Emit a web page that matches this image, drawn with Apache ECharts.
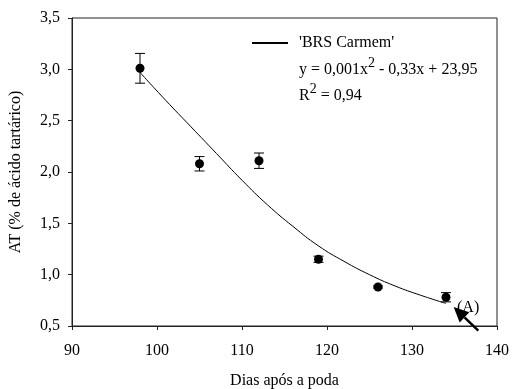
<!DOCTYPE html>
<html>
<head>
<meta charset="utf-8">
<script src="https://cdn.jsdelivr.net/npm/echarts@6/dist/echarts.min.js"></script>
<style>
html, body { margin: 0; padding: 0; background: #fff; }
#chart { width: 515px; height: 389px; }
</style>
</head>
<body>
<div id="chart"></div>
<script>
// pontos medidos (dias apos a poda, AT e erro padrao)
var dias = [98, 105, 112, 119, 126, 134];
var atMedia = [3.01, 2.08, 2.11, 1.15, 0.88, 0.78];
var atErro = [0.145, 0.07, 0.075, 0.03, 0.01, 0.045];

// curva ajustada
var curvaX = [98, 101, 104, 107, 110, 113, 116, 119, 122, 125, 128, 131, 134];
var curvaY = [2.97, 2.70, 2.44, 2.18, 1.92, 1.68, 1.47, 1.28, 1.13, 1.00, 0.89, 0.80, 0.72];

// seta (A): inicio x,y -> ponta x,y
var setaA = [137.8, 0.455, 134.9, 0.685];

var xTicks = [90, 100, 110, 120, 130, 140];
var yTicks = [0.5, 1.0, 1.5, 2.0, 2.5, 3.0, 3.5];

var fonte = 'Liberation Serif';

var pontos = [];
var barras = [];
for (var i = 0; i < dias.length; i++) {
	pontos.push([dias[i], atMedia[i]]);
	barras.push([dias[i], atMedia[i] - atErro[i], atMedia[i] + atErro[i]]);
}
var curva = [];
for (var j = 0; j < curvaX.length; j++) {
	curva.push([curvaX[j], curvaY[j]]);
}

var myChart = echarts.init(document.getElementById('chart'));
var option = {
	animation: false,
	textStyle: { fontFamily: fonte, color: '#000' },
	grid: {
		left: 72, top: 18, right: 18, bottom: 63,
		containLabel: false, outerBoundsMode: 'none',
		show: true, borderColor: '#222', borderWidth: 1
	},
	legend: {
		left: 252, top: 35, padding: 0,
		itemWidth: 36, itemHeight: 10,
		textStyle: { fontFamily: fonte, fontSize: 16, color: '#000', padding: [0, 0, 0, 6] },
		data: [{ name: "'BRS Carmem'", icon: 'path://M0,0 L1,0 L1,0.06 L0,0.06 Z', itemStyle: { color: '#000' } }]
	},
	xAxis: {
		type: 'value',
		min: xTicks[0], max: xTicks[xTicks.length - 1], interval: 10,
		name: 'Dias após a poda',
		nameLocation: 'middle', nameGap: 47,
		nameTextStyle: { fontFamily: fonte, fontSize: 16, color: '#000' },
		axisLine: { lineStyle: { color: '#222' } },
		axisTick: { inside: false, length: 4, lineStyle: { color: '#222' } },
		axisLabel: { fontFamily: fonte, fontSize: 16, color: '#000', margin: 17 },
		splitLine: { show: false }
	},
	yAxis: {
		type: 'value',
		min: yTicks[0], max: yTicks[yTicks.length - 1], interval: 0.5,
		name: 'AT (% de ácido tartárico)',
		nameLocation: 'middle', nameGap: 48, nameRotate: 90,
		nameTextStyle: { fontFamily: fonte, fontSize: 16, color: '#000' },
		axisLine: { show: true, lineStyle: { color: '#222' } },
		axisTick: { show: true, inside: false, length: 4, lineStyle: { color: '#222' } },
		axisLabel: {
			fontFamily: fonte, fontSize: 16, color: '#000', margin: 12,
			formatter: function (v) { return v.toFixed(1).replace('.', ','); }
		},
		splitLine: { show: false }
	},
	series: [
		{
			name: "'BRS Carmem'",
			type: 'line',
			data: curva,
			smooth: true,
			symbol: 'none',
			color: '#000',
			lineStyle: { color: '#000', width: 1 },
			z: 2
		},
		{
			name: 'erro',
			type: 'custom',
			data: barras,
			z: 3,
			renderItem: function (params, api) {
				var x = api.value(0);
				var baixo = api.coord([x, api.value(1)]);
				var alto = api.coord([x, api.value(2)]);
				var w = 5;
				var st = { stroke: '#000', lineWidth: 1 };
				return {
					type: 'group',
					children: [
						{ type: 'line', shape: { x1: baixo[0], y1: baixo[1], x2: alto[0], y2: alto[1] }, style: st },
						{ type: 'line', shape: { x1: baixo[0] - w, y1: baixo[1], x2: baixo[0] + w, y2: baixo[1] }, style: st },
						{ type: 'line', shape: { x1: alto[0] - w, y1: alto[1], x2: alto[0] + w, y2: alto[1] }, style: st }
					]
				};
			}
		},
		{
			name: 'media',
			type: 'scatter',
			data: pontos,
			symbol: 'circle',
			symbolSize: 9,
			itemStyle: { color: '#000', opacity: 1 },
			z: 4
		},
		{
			name: 'seta',
			type: 'custom',
			data: [setaA],
			clip: false,
			silent: true,
			z: 5,
			renderItem: function (params, api) {
				var a = api.coord([api.value(0), api.value(1)]);
				var b = api.coord([api.value(2), api.value(3)]);
				var dx = b[0] - a[0], dy = b[1] - a[1];
				var len = Math.sqrt(dx * dx + dy * dy);
				var ux = dx / len, uy = dy / len;
				var hl = 15, hw = 7;
				var bx = b[0] - ux * hl, by = b[1] - uy * hl;
				return {
					type: 'group',
					children: [
						{ type: 'line', shape: { x1: a[0], y1: a[1], x2: bx, y2: by }, style: { stroke: '#000', lineWidth: 2.5 } },
						{
							type: 'polygon',
							shape: { points: [[b[0], b[1]], [bx - uy * hw, by + ux * hw], [bx + uy * hw, by - ux * hw]] },
							style: { fill: '#000' }
						}
					]
				};
			}
		}
	],
	graphic: [
		{
			type: 'text', left: 299, top: 56,
			style: {
				text: '{t|y = 0,001x}{s|2}{t| - 0,33x + 23,95}',
				rich: {
					t: { fontFamily: fonte, fontSize: 16, fill: '#000', verticalAlign: 'bottom' },
					s: { fontFamily: fonte, fontSize: 14, fill: '#000', verticalAlign: 'top', padding: [0, 0, 8, 0] }
				}
			}
		},
		{
			type: 'text', left: 299, top: 82,
			style: {
				text: '{t|R}{s|2}{t| = 0,94}',
				rich: {
					t: { fontFamily: fonte, fontSize: 16, fill: '#000', verticalAlign: 'bottom' },
					s: { fontFamily: fonte, fontSize: 14, fill: '#000', verticalAlign: 'top', padding: [0, 0, 8, 0] }
				}
			}
		},
		{
			type: 'text', left: 457, top: 300,
			style: { text: '(A)', fontFamily: fonte, fontSize: 16, fill: '#000' }
		}
	]
};
myChart.setOption(option);
</script>
</body>
</html>
